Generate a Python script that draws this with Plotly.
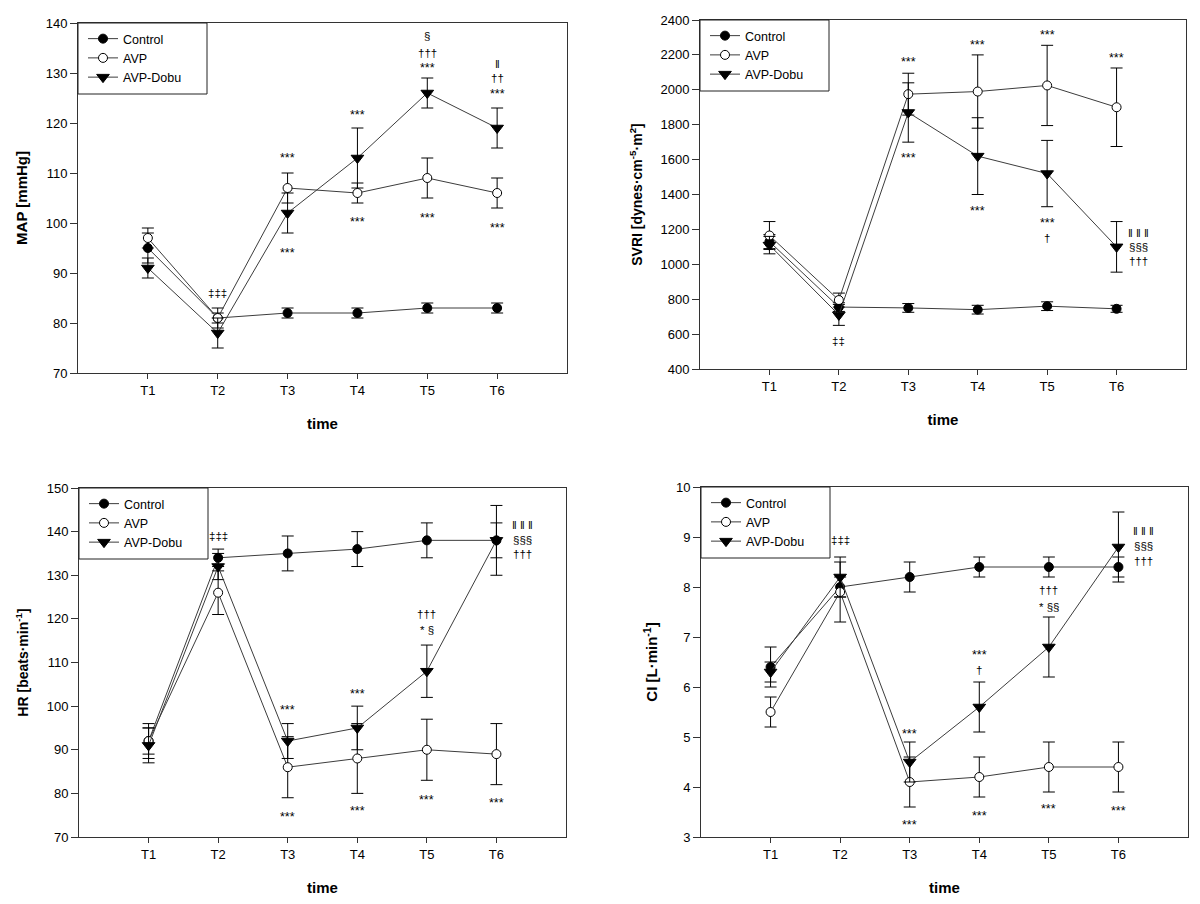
import plotly.graph_objects as go

# ---------------- data ----------------
times = ["T1", "T2", "T3", "T4", "T5", "T6"]
series_names = ["Control", "AVP", "AVP-Dobu"]

map_control = [95, 81, 82, 82, 83, 83]
map_control_err = [3, 1, 1, 1, 1, 1]
map_avp = [97, 81, 107, 106, 109, 106]
map_avp_err = [2, 2, 3, 2, 4, 3]
map_dobu = [91, 78, 102, 113, 126, 119]
map_dobu_err = [2, 3, 4, 6, 3, 4]

svri_control = [1130, 755, 750, 740, 760, 745]
svri_control_err = [40, 25, 25, 25, 25, 20]
svri_avp = [1165, 795, 1975, 1990, 2025, 1900]
svri_avp_err = [80, 40, 120, 210, 230, 225]
svri_dobu = [1110, 710, 1870, 1620, 1520, 1100]
svri_dobu_err = [50, 60, 170, 220, 190, 145]

hr_control = [92, 134, 135, 136, 138, 138]
hr_control_err = [4, 2, 4, 4, 4, 4]
hr_avp = [92, 126, 86, 88, 90, 89]
hr_avp_err = [3, 5, 7, 8, 7, 7]
hr_dobu = [91, 132, 92, 95, 108, 138]
hr_dobu_err = [4, 3, 4, 5, 6, 8]

ci_control = [6.4, 8.0, 8.2, 8.4, 8.4, 8.4]
ci_control_err = [0.4, 0.2, 0.3, 0.2, 0.2, 0.2]
ci_avp = [5.5, 7.9, 4.1, 4.2, 4.4, 4.4]
ci_avp_err = [0.3, 0.6, 0.5, 0.4, 0.5, 0.5]
ci_dobu = [6.3, 8.2, 4.5, 5.6, 6.8, 8.8]
ci_dobu_err = [0.2, 0.4, 0.4, 0.5, 0.6, 0.7]

# significance labels: (time position, value, text)
map_marks = [(2, 86, "‡‡‡"), (3, 113.3, "***"), (3, 94.4, "***"), (4, 121.9, "***"),
             (4, 100.5, "***"), (5, 137.3, "§"), (5, 134, "†††"), (5, 131.4, "***"),
             (5, 101.3, "***"), (6, 131.7, "‖"), (6, 128.9, "††"), (6, 126.1, "***"),
             (6, 99.4, "***")]
svri_marks = [(2, 559, "‡‡"), (3, 2171, "***"), (3, 1619, "***"), (4, 2266, "***"),
              (4, 1317, "***"), (5, 2325, "***"), (5, 1250, "***"), (5, 1150, "†"),
              (6, 2196, "***"), (6.32, 1180, "‖ ‖ ‖"), (6.32, 1097, "§§§"), (6.32, 1018, "†††")]
hr_marks = [(2, 138.9, "‡‡‡"), (3, 99.6, "***"), (3, 75.1, "***"), (4, 103.2, "***"),
            (4, 76.4, "***"), (5, 121.1, "†††"), (5, 117.9, "* §"), (5, 78.9, "***"),
            (6.37, 141.5, "‖ ‖ ‖"), (6.37, 138, "§§§"), (6.37, 134.8, "†††"), (6, 78.2, "***")]
ci_marks = [(2, 8.94, "‡‡‡"), (3, 5.11, "***"), (3, 3.29, "***"), (4, 6.68, "***"),
            (4, 6.34, "†"), (4, 3.46, "***"), (5, 7.95, "†††"), (5, 7.64, "* §§"),
            (5, 3.6, "***"), (6.36, 9.12, "‖ ‖ ‖"), (6.36, 8.82, "§§§"), (6.36, 8.53, "†††"),
            (6, 3.56, "***")]

y_titles = ["<b>MAP [mmHg]</b>",
            "<b>SVRI [dynes·cm<sup>-5</sup>·m<sup>2</sup>]</b>",
            "<b>HR [beats·min<sup>-1</sup>]</b>",
            "<b>CI [L·min<sup>-1</sup>]</b>"]
y_ranges = [[70, 140], [400, 2400], [70, 150], [3, 10]]
y_dtick = [10, 200, 10, 1]

# ---------------- figure ----------------
# the page body adds an 8px margin, so the figure is sized to fit the window
W, H = 1192, 896
FONT = "Liberation Sans, Arial, sans-serif"
LINE = "#3c3c3c"
AX = "#333333"
LEG_W, LEG_H = 129, 71

panels = [
    dict(vals=[(map_control, map_control_err), (map_avp, map_avp_err), (map_dobu, map_dobu_err)],
         marks=map_marks, px=(70, 559), py=(15, 365)),
    dict(vals=[(svri_control, svri_control_err), (svri_avp, svri_avp_err), (svri_dobu, svri_dobu_err)],
         marks=svri_marks, px=(692, 1178), py=(12, 361)),
    dict(vals=[(hr_control, hr_control_err), (hr_avp, hr_avp_err), (hr_dobu, hr_dobu_err)],
         marks=hr_marks, px=(71, 558), py=(480, 829)),
    dict(vals=[(ci_control, ci_control_err), (ci_avp, ci_avp_err), (ci_dobu, ci_dobu_err)],
         marks=ci_marks, px=(693, 1180), py=(479, 829)),
]

styles = [
    dict(symbol="circle", size=9, fill="black"),
    dict(symbol="circle", size=9, fill="white"),
    dict(symbol="triangle-down", size=11, fill="black"),
]

xpos = list(range(1, len(times) + 1))

fig = go.Figure()
layout = dict(width=W, height=H, margin=dict(l=0, r=0, t=0, b=0, autoexpand=False),
              paper_bgcolor="white", plot_bgcolor="white",
              font=dict(family=FONT, color="black", size=13),
              annotations=[], shapes=[])

for i, p in enumerate(panels):
    k = "" if i == 0 else str(i + 1)
    xa, ya = "x" + k, "y" + k
    lg = "legend" + k
    for (vals, errs), name, st in zip(p["vals"], series_names, styles):
        fig.add_trace(go.Scatter(
            x=xpos, y=vals, mode="lines+markers", name=name,
            line=dict(color=LINE, width=1),
            marker=dict(symbol=st["symbol"], size=st["size"], color=st["fill"],
                        line=dict(color="black", width=1)),
            error_y=dict(type="data", array=errs, visible=True, color="black",
                         thickness=1, width=6),
            xaxis=xa, yaxis=ya, legend=lg, showlegend=True))
    x0, x1 = p["px"][0] / W, p["px"][1] / W
    y0, y1 = 1 - p["py"][1] / H, 1 - p["py"][0] / H
    layout["xaxis" + k] = dict(domain=[x0, x1], range=[0, 7], tickvals=xpos, ticktext=times,
                               showline=True, linecolor=AX, linewidth=1, mirror=True,
                               ticks="outside", ticklen=5, tickcolor=AX, showgrid=False,
                               zeroline=False, anchor=ya, automargin=False,
                               tickfont=dict(family=FONT, size=13),
                               title=dict(text="<b>time</b>", font=dict(family=FONT, size=15),
                                          standoff=21))
    layout["yaxis" + k] = dict(domain=[y0, y1], range=y_ranges[i], dtick=y_dtick[i],
                               showline=True, linecolor=AX, linewidth=1, mirror=True,
                               ticks="outside", ticklen=7, tickcolor=AX, showgrid=False,
                               zeroline=False, anchor=xa, automargin=False,
                               tickfont=dict(family=FONT, size=13),
                               title=dict(text=y_titles[i],
                                          font=dict(family=FONT, size=15 if i in (0, 3) else 14),
                                          standoff=14))
    # legend frame
    layout["shapes"].append(dict(
        type="rect", xref="paper", yref="paper", layer="above",
        x0=x0, x1=(p["px"][0] + LEG_W) / W,
        y0=1 - (p["py"][0] + LEG_H) / H, y1=y1,
        fillcolor="white", line=dict(color="#222", width=1)))
    layout[lg] = dict(x=(p["px"][0] + 5) / W, y=1 - (p["py"][0] + 1) / H,
                      xanchor="left", yanchor="top",
                      bgcolor="rgba(0,0,0,0)", borderwidth=0,
                      font=dict(family=FONT, size=12.5), tracegroupgap=0,
                      itemwidth=30)
    for (xv, yv, txt) in p["marks"]:
        star = txt.startswith("*")
        layout["annotations"].append(dict(
            x=xv, y=yv, xref=xa, yref=ya, text=txt, showarrow=False,
            yshift=-2 if star else 0,
            font=dict(family=FONT, size=12.5 if txt == "***" else 11.5, color="black")))

fig.update_layout(**layout)
fig.write_html("out.html")
